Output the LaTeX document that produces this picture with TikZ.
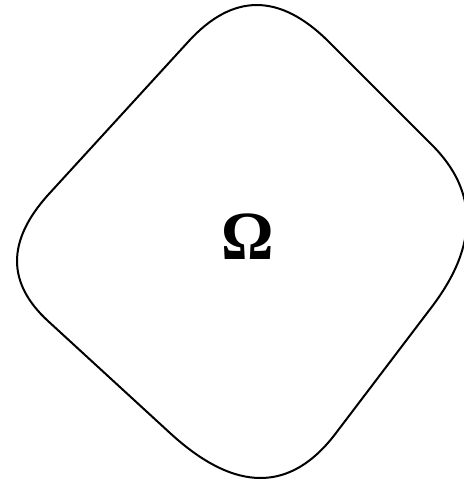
\documentclass[tikz,border=0pt]{standalone}
\usepackage{fontspec}
\newfontfamily\omegafont{Liberation Serif}
\begin{document}
\begin{tikzpicture}[x=1pt,y=-1pt,
  outline/.style={line width=2pt,line join=round},
  label/.style={font=\omegafont\bfseries\fontsize{69}{69}\selectfont,inner sep=0pt,anchor=base}]
\useasboundingbox (0,0) rectangle (463,481);
\draw[outline]
  (188,42) .. controls (232.7,-7.3) and (279.7,-7.3) .. (329,42)
  -- (432,145) .. controls (478.4,191.4) and (478.4,245.3) .. (432,306.6)
  -- (336,433) .. controls (290.7,493) and (235.3,493) .. (170,433)
  -- (48,321) .. controls (6.7,283) and (6.7,241) .. (48,195)
  -- cycle;
\node[label,xscale=0.95] (omega) at (247.5,259) {Ω};
\end{tikzpicture}
\end{document}
